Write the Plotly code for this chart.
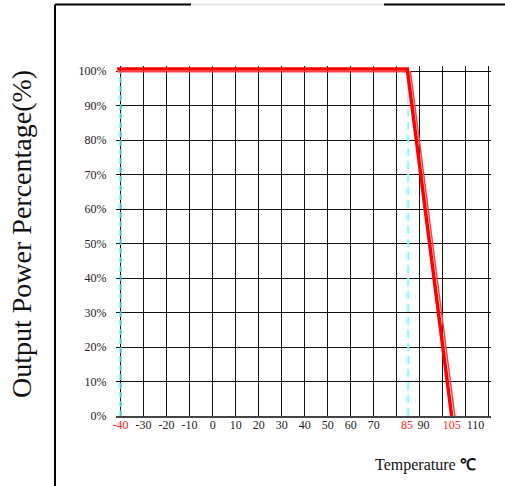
import plotly.graph_objects as go

# Derating curve data (temperature in deg C, output power %)
temp_main = [-41.5, 84.6, 103.9]
power_main = [100.6, 100.6, 0]
temp_edge = [-41.5, 86.0, 105.3]
power_edge = [99.8, 99.8, 0]
limit_temps = [-40, 85]
x_tick_labels = ['-40', '-30', '-20', '-10', '0', '10', '20', '30', '40', '50', '60', '70',
                 '85', '90', '105', '110']
x_tick_label_at = [-40, -30, -20, -10, 0, 10, 20, 30, 40, 50, 60, 70, 84.5, 91.7, 103.9, 114.3]
x_tick_red = ['-40', '85', '105']
y_tick_vals = [0, 10, 20, 30, 40, 50, 60, 70, 80, 90, 100]
y_title = "Output Power Percentage(%)"
x_title = "Temperature <b>℃</b>"

W, H = 505, 486
L, R, T, B = 116, 14, 66, 70
pw, ph = W - L - R, H - T - B
def px(x):
    return (x - L) / pw
def py(y):
    return (H - B - y) / ph

x_tick_text = [f'<span style="color:#ff2020">{t}</span>' if t in x_tick_red else t
               for t in x_tick_labels]
y_tick_text = [f"{v}%" for v in y_tick_vals]

fig = go.Figure()

# cyan dashed limit lines
fig.add_trace(go.Scatter(x=[limit_temps[0], limit_temps[0]], y=[0, 100], mode="lines",
                         line=dict(color="#3cc8c8", width=2, dash="6px,3px"),
                         hoverinfo="skip", showlegend=False))
fig.add_trace(go.Scatter(x=[limit_temps[1], limit_temps[1]], y=[0, 98.5], mode="lines",
                         line=dict(color="#80ffff", width=2, dash="8px,5px"),
                         hoverinfo="skip", showlegend=False))
# derating curve (double stroke)
fig.add_trace(go.Scatter(x=temp_edge, y=power_edge, mode="lines",
                         line=dict(color="#ff4040", width=1.5),
                         hoverinfo="skip", showlegend=False))
fig.add_trace(go.Scatter(x=temp_main, y=power_main, mode="lines",
                         line=dict(color="#ff0000", width=3.5),
                         hoverinfo="skip", showlegend=False))
# dummy trace for tick-label axis
fig.add_trace(go.Scatter(x=[0], y=[0], xaxis="x2", mode="markers",
                         marker=dict(opacity=0), hoverinfo="skip", showlegend=False))

font_family = "Liberation Serif, Times New Roman, serif"

fig.update_layout(
    width=W, height=H,
    margin=dict(l=L, r=R, t=T, b=B),
    plot_bgcolor="white", paper_bgcolor="white",
    font=dict(family=font_family, color="#222"),
    xaxis=dict(range=[-42, 121], tick0=-40, dtick=10, showgrid=True, gridcolor="#111",
               gridwidth=1, showticklabels=False, zeroline=False, showline=True,
               linecolor="#444", linewidth=2, ticks=""),
    xaxis2=dict(range=[-42, 121], overlaying="x", side="bottom", tickvals=x_tick_label_at,
                ticktext=x_tick_text, showgrid=False, zeroline=False, showline=False,
                tickangle=0, tickfont=dict(size=12, family=font_family, color="#222"),
                ticks=""),
    yaxis=dict(range=[0, 101.5], tickvals=y_tick_vals, ticktext=y_tick_text, showgrid=True,
               gridcolor="#111", gridwidth=1, zeroline=False, showline=False,
               ticks="outside", ticklen=6, tickcolor="rgba(0,0,0,0)",
               tickfont=dict(size=12, family=font_family, color="#222")),
    annotations=[
        dict(text=y_title, xref="paper", yref="paper", x=px(21), y=py(234),
             textangle=-90, showarrow=False, xanchor="center", yanchor="middle",
             font=dict(size=28, family=font_family, color="#111")),
        dict(text=x_title, xref="paper", yref="paper", x=px(425), y=py(465),
             showarrow=False, xanchor="center", yanchor="middle",
             font=dict(size=16, family=font_family, color="#111")),
    ],
    shapes=[
        dict(type="line", xref="paper", yref="paper", x0=px(55), x1=px(55), y0=py(4.5), y1=py(490),
             line=dict(color="black", width=2)),
        dict(type="line", xref="paper", yref="paper", x0=px(55), x1=px(191), y0=py(4.5), y1=py(4.5),
             line=dict(color="black", width=2)),
        dict(type="line", xref="paper", yref="paper", x0=px(191), x1=px(384), y0=py(4.5), y1=py(4.5),
             line=dict(color="#e6e6e6", width=2)),
        dict(type="line", xref="paper", yref="paper", x0=px(384), x1=px(510), y0=py(4.5), y1=py(4.5),
             line=dict(color="black", width=2)),
    ],
)

fig.write_html("out.html", config={"displayModeBar": False},
               post_script="document.body.style.margin='0';document.body.style.overflow='hidden';")
